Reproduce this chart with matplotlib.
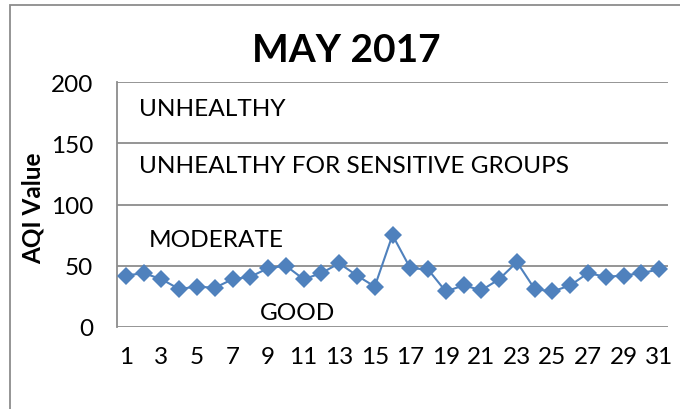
import matplotlib
matplotlib.use("Agg")
import matplotlib.pyplot as plt
from matplotlib.patches import Rectangle

days = list(range(1, 32))
aqi = [42, 44, 39, 31, 33, 32, 39, 41, 48, 50, 39, 44, 52, 42, 33, 75,
       48, 47, 29, 34, 30, 39, 53, 31, 29, 34, 44, 41, 42, 44, 47]
xtick_labels = [str(d) for d in range(1, 32, 2)]
ytick_values = [0, 50, 100, 150, 200]
band_labels = ["UNHEALTHY", "UNHEALTHY FOR SENSITIVE GROUPS", "MODERATE", "GOOD"]

plt.rcParams['font.family'] = ['Lato', 'DejaVu Sans']
W, H = 680, 410
fig = plt.figure(figsize=(W / 100, H / 100), dpi=100)
ax = fig.add_axes([117 / W, 1 - 328 / H, (668 - 117) / W, (328 - 83) / H])

blue = '#4F81BD'
ax.plot(days, aqi, color=blue, lw=1.5, marker='D', ms=8.8, markeredgewidth=0,
        zorder=3)

ax.set_xlim(0.5, 31.5)
ax.set_ylim(0, 200)
ax.set_yticks(ytick_values)
ax.set_xticks(range(1, 32, 2))
ax.set_xticklabels(xtick_labels)
ax.tick_params(axis='both', length=0, labelsize=17.5, colors='black')
ax.tick_params(axis='x', pad=14)
ax.tick_params(axis='y', pad=17)
gray = '#8C8C8C'
for v in ytick_values:
    ax.axhline(v, color=gray, lw=1.3, zorder=1)
for s in ['top', 'right', 'bottom']:
    ax.spines[s].set_visible(False)
ax.spines['left'].set_color(gray)
ax.spines['left'].set_linewidth(1.3)

def px(x, y):
    return x / W, 1 - y / H

fs = 17.6
fig.text(*px(139, 110), band_labels[0], fontsize=fs, ha='left', va='center')
fig.text(*px(139, 167), band_labels[1], fontsize=fs, ha='left', va='center')
fig.text(*px(149, 241), band_labels[2], fontsize=fs, ha='left', va='center')
fig.text(*px(260, 314), band_labels[3], fontsize=fs, ha='left', va='center')

fig.text(*px(346, 51), "MAY 2017", fontsize=28, fontweight='bold',
         ha='center', va='center')
fig.text(*px(33, 208), "AQI Value", fontsize=17.5, fontweight='bold',
         rotation=90, ha='center', va='center')

fig.patches.append(Rectangle((10 / W, -0.1), 1.2, 1.1 - 6 / H,
                             transform=fig.transFigure, fill=False,
                             edgecolor=gray, lw=1.3))

fig.savefig('out.png', dpi=100)
